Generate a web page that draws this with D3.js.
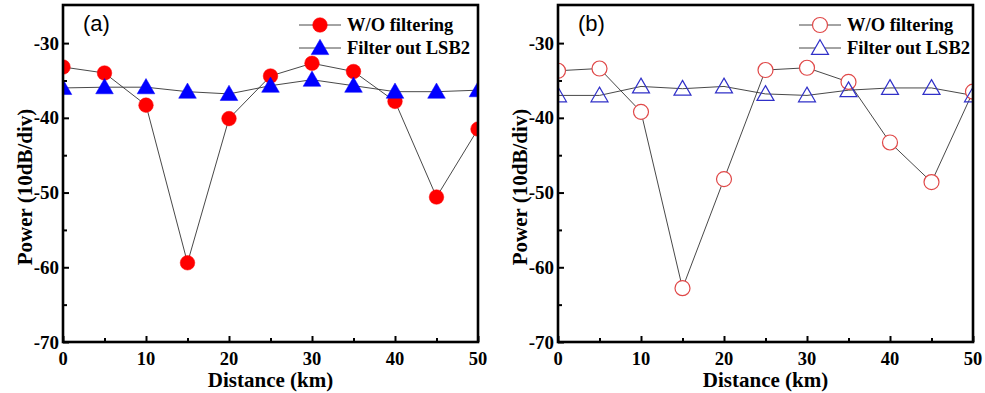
<!DOCTYPE html>
<html>
<head>
<meta charset="utf-8">
<script src="https://d3js.org/d3.v7.min.js"></script>
<style>
  body { margin: 0; background: #fff; }
  svg text { font-family: "Liberation Serif", "Times New Roman", serif; font-weight: bold; }
</style>
</head>
<body>
<div id="chart"></div>
<script>

// distances (km)
var distance = [0, 5, 10, 15, 20, 25, 30, 35, 40, 45, 50];

// panel (a) values, dB
var woFilterA  = [-33.2, -34.0, -38.3, -59.4, -40.1, -34.4, -32.7, -33.8, -37.8, -50.6, -41.5];
var lsb2A      = [-36.0, -35.9, -35.9, -36.5, -36.8, -35.7, -34.9, -35.7, -36.5, -36.5, -36.3];

// panel (b) values, dB
var woFilterB  = [-33.7, -33.4, -39.2, -62.8, -48.2, -33.6, -33.3, -35.2, -43.3, -48.6, -36.5];
var lsb2B      = [-37.0, -37.0, -35.8, -36.1, -35.8, -36.8, -37.0, -36.3, -36.0, -36.0, -37.0];

var xTicks = [0, 10, 20, 30, 40, 50];
var yTicks = [-30, -40, -50, -60, -70];
var seriesNames = ["W/O filtering", "Filter out LSB2"];

var W = 985, H = 393;

var svg = d3.select("#chart").append("svg")
    .attr("width", W)
    .attr("height", H);

function drawPanel(opt) {
  var left = opt.left, right = opt.right, top = 5, bottom = 342;

  var x = d3.scaleLinear().domain([0, 50]).range([left, right]);
  var y = d3.scaleLinear().domain([-70, -24.9]).range([bottom, top]);

  var g = svg.append("g");

  var clipId = "clip" + opt.tag;
  svg.append("clipPath").attr("id", clipId)
    .append("rect")
      .attr("x", left).attr("y", top)
      .attr("width", right - left).attr("height", bottom - top);

  var plot = g.append("g").attr("clip-path", "url(#" + clipId + ")");

  var line = d3.line()
    .x(function(d, i) { return x(distance[i]); })
    .y(function(d) { return y(d); });

  // connecting lines
  [opt.red, opt.blue].forEach(function(vals) {
    plot.append("path")
      .datum(vals)
      .attr("fill", "none")
      .attr("stroke", "#333")
      .attr("stroke-width", 0.9)
      .attr("d", line);
  });

  var tri = d3.symbol().type(d3.symbolTriangle).size(opt.filled ? 135 : 125);

  // red circles
  plot.selectAll(".c" + opt.tag)
    .data(opt.red)
    .enter().append("circle")
      .attr("cx", function(d, i) { return x(distance[i]); })
      .attr("cy", function(d) { return y(d); })
      .attr("r", opt.filled ? 7.3 : 7.5)
      .attr("fill", opt.filled ? "#ff0000" : "#fff")
      .attr("stroke", opt.filled ? "#ff0000" : "#e04848")
      .attr("stroke-width", opt.filled ? 0.5 : 1.2);

  // blue triangles
  plot.selectAll(".t" + opt.tag)
    .data(opt.blue)
    .enter().append("path")
      .attr("transform", function(d, i) { return "translate(" + x(distance[i]) + "," + (y(d) + 1.5) + ")"; })
      .attr("d", tri)
      .attr("fill", opt.filled ? "#0000ff" : "none")
      .attr("stroke", opt.filled ? "#0000ff" : "#3030c8")
      .attr("stroke-width", opt.filled ? 0.5 : 1.2);

  // axes: ticks pointing inward
  var xAxis = d3.axisBottom(x).tickValues(d3.range(0, 51, 5)).tickSize(-3).tickFormat("");
  g.append("g").attr("transform", "translate(0," + bottom + ")").call(xAxis)
    .call(function(s) {
      s.select(".domain").remove();
      s.selectAll(".tick line").attr("stroke", "#000").attr("stroke-width", 2)
        .attr("y2", function(d) { return d % 10 === 0 ? -6 : -4; });
    });

  var yAxis = d3.axisLeft(y).tickValues(d3.range(-70, -29, 5)).tickSize(-3).tickFormat("");
  g.append("g").attr("transform", "translate(" + left + ",0)").call(yAxis)
    .call(function(s) {
      s.select(".domain").remove();
      s.selectAll(".tick line").attr("stroke", "#000").attr("stroke-width", 2)
        .attr("x2", function(d) { return d % 10 === 0 ? 6 : 4; });
    });

  // tick labels
  g.selectAll(".xl" + opt.tag).data(xTicks).enter().append("text")
    .attr("x", function(d) { return x(d); })
    .attr("y", 365)
    .attr("text-anchor", "middle")
    .attr("font-size", 18.5)
    .text(function(d) { return d; });

  g.selectAll(".yl" + opt.tag).data(yTicks).enter().append("text")
    .attr("x", left - 4)
    .attr("y", function(d) { return y(d) + 6.5; })
    .attr("text-anchor", "end")
    .attr("font-size", 19)
    .text(function(d) { return d; });

  // frame
  g.append("rect")
    .attr("x", left).attr("y", top)
    .attr("width", right - left).attr("height", bottom - top)
    .attr("fill", "none")
    .attr("stroke", "#000")
    .attr("stroke-width", 2.6);

  // axis titles
  g.append("text")
    .attr("x", (left + right) / 2)
    .attr("y", 387)
    .attr("text-anchor", "middle")
    .attr("font-size", 21)
    .text("Distance (km)");

  g.append("text")
    .attr("transform", "translate(" + (left - 31) + ",187) rotate(-90)")
    .attr("text-anchor", "middle")
    .attr("font-size", 21)
    .text("Power (10dB/div)");

  // panel tag
  g.append("text")
    .attr("x", left + 20)
    .attr("y", 31)
    .style("font-family", "'Liberation Sans', Arial, sans-serif")
    .style("font-weight", "normal")
    .attr("font-size", 22)
    .text("(" + opt.tag + ")");

  // legend
  var lg = g.append("g");
  var lx = opt.legendX;
  [0, 1].forEach(function(k) {
    var ly = 25 + k * 23;
    lg.append("line")
      .attr("x1", lx - 21).attr("x2", lx + 21)
      .attr("y1", ly).attr("y2", ly)
      .attr("stroke", "#333").attr("stroke-width", 0.9);
    if (k === 0) {
      lg.append("circle")
        .attr("cx", lx).attr("cy", ly)
        .attr("r", opt.filled ? 7.3 : 7.5)
        .attr("fill", opt.filled ? "#ff0000" : "#fff")
        .attr("stroke", opt.filled ? "#ff0000" : "#e04848")
        .attr("stroke-width", opt.filled ? 0.5 : 1.2);
    } else {
      lg.append("path")
        .attr("transform", "translate(" + lx + "," + (ly + 1.5) + ")")
        .attr("d", tri)
        .attr("fill", opt.filled ? "#0000ff" : "#fff")
        .attr("stroke", opt.filled ? "#0000ff" : "#3030c8")
        .attr("stroke-width", opt.filled ? 0.5 : 1.2);
    }
    lg.append("text")
      .attr("x", lx + 27)
      .attr("y", ly + 6)
      .attr("font-size", 18.5)
      .text(seriesNames[k]);
  });
}

drawPanel({ tag: "a", left: 63, right: 478, red: woFilterA, blue: lsb2A, filled: true, legendX: 320 });
drawPanel({ tag: "b", left: 558, right: 973, red: woFilterB, blue: lsb2B, filled: false, legendX: 820 });

</script>
</body>
</html>
